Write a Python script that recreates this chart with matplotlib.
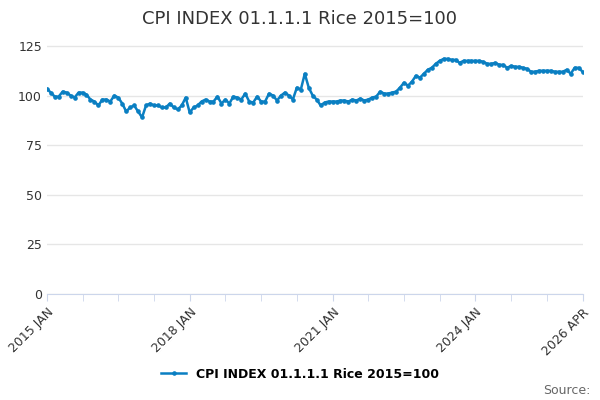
import numpy as np
import matplotlib.pyplot as plt

values = [103.5, 101.5, 99.5, 99.5, 102, 101.5, 100, 99, 101.5, 101.5, 100.5, 98,
          97, 95, 98, 98, 97, 100, 99, 96, 92, 94, 95, 92,
          89, 95, 96, 95, 95, 94, 94, 96, 94, 93, 95, 99,
          91.5, 94, 95, 97, 98, 97, 97, 99.5, 96, 98, 96, 99.5,
          99, 98, 101, 97, 96.5, 99.5, 97, 97, 101, 100, 97.5, 100,
          101.5, 100, 98, 104, 103, 111, 104, 100, 98, 95, 96.5, 97,
          97, 97, 97.5, 97.5, 97, 98, 97.5, 98.5, 97.5, 98, 99, 99.5,
          102, 101, 101, 101.5, 102, 104, 106.5, 105, 107, 110, 109, 111,
          113, 114, 116, 117.5, 118.5, 118.5, 118, 118, 116.5, 117.5, 117.5, 117.5,
          117.5, 117.5, 117, 116, 116, 116.5, 115.5, 115.5, 114, 115, 114.5, 114.5,
          114, 113.5, 112, 112, 112.5, 112.5, 112.5, 112.5, 112, 112, 112, 113,
          111, 114, 114, 112]
tick_pos = [0, 36, 72, 108, 135]
tick_labels = ['2015 JAN', '2018 JAN', '2021 JAN', '2024 JAN', '2026 APR']
title = 'CPI INDEX 01.1.1.1 Rice 2015=100'

color = '#0a7fc2'
fig = plt.figure(figsize=(6, 4), dpi=100)
ax = fig.add_axes([0.078, 0.265, 0.893, 0.635])
x = np.arange(len(values))
ax.plot(x, values, color=color, lw=1.8, marker='o', ms=2.3, label=title)
ax.set_xlim(0, 135)
ax.set_ylim(0, 128)
ax.set_yticks([0, 25, 50, 75, 100, 125])
ax.set_xticks(tick_pos)
ax.set_xticks(np.arange(9, 135, 9), minor=True)
ax.set_xticklabels(tick_labels, rotation=45, ha='right', rotation_mode='anchor')
ax.tick_params(axis='y', length=0, labelsize=9, colors='#333333')
ax.tick_params(axis='x', which='both', labelsize=9, colors='#ccd6eb', labelcolor='#333333', length=5)
ax.grid(axis='y', color='#e6e6e6', lw=1)
ax.set_axisbelow(True)
for s in ['top', 'right', 'left']:
    ax.spines[s].set_visible(False)
ax.spines['bottom'].set_color('#ccd6eb')
fig.suptitle(title, fontsize=13, color='#333333', y=0.975)
fig.legend(loc='lower center', bbox_to_anchor=(0.5, 0.02), frameon=False,
           prop={'weight': 'bold', 'size': 9})
fig.text(0.985, 0.015, 'Source:', ha='right', fontsize=9, color='#666666')
fig.savefig('out.png')
